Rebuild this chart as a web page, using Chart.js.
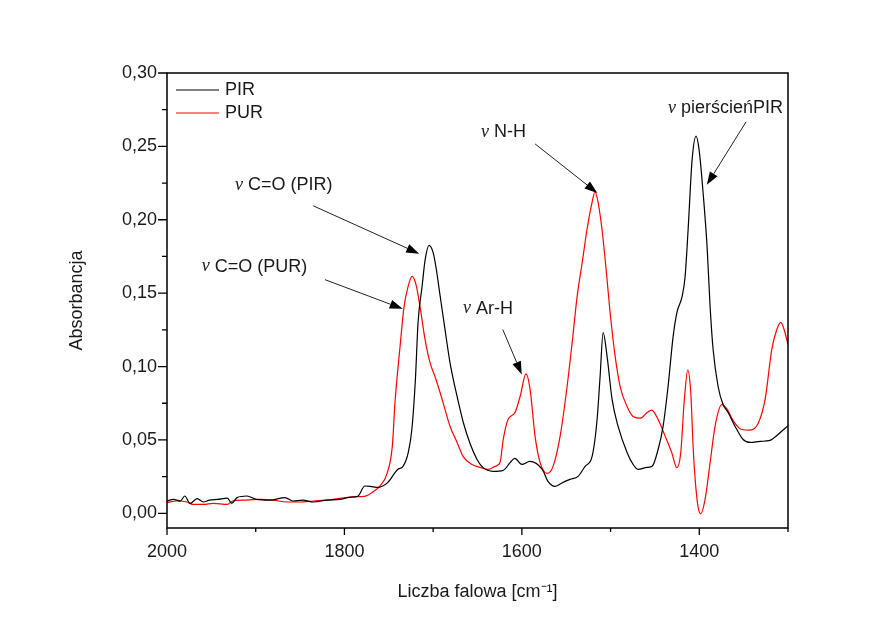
<!DOCTYPE html>
<html><head><meta charset="utf-8">
<script src="https://cdn.jsdelivr.net/npm/chart.js@4.4.1/dist/chart.umd.min.js"></script>
<style>html,body{margin:0;padding:0;background:#fff}#wrap{width:896px;height:627px;position:relative}</style>
</head><body><div id="wrap"><canvas id="c" width="896" height="627"></canvas></div>
<script>
// ---- DATA ----
const pirWavenumber = [2000,1993,1985,1980,1974,1966,1959,1952,1943,1932,1927,1921,1910,1899,1884,1867,1858,1847,1835,1820,1805,1794,1785,1777,1771,1762,1751,1740,1734,1728,1724,1720,1717,1712.5,1709,1704.6,1700,1696.7,1692,1686.6,1681,1673,1666,1658,1650.5,1644,1632.5,1621,1613,1608,1600,1591,1577,1570.5,1562.6,1553.5,1545.7,1536.6,1528.7,1520.8,1515.2,1511.8,1508.4,1503.9,1498.3,1491.5,1481.4,1474.6,1469,1458.8,1453.2,1446.4,1440.8,1435.2,1429.5,1425,1419.4,1416,1412.6,1408.1,1403.6,1400.2,1395.7,1391.2,1387.8,1384.4,1378.8,1373.2,1367.5,1359.6,1350.6,1342.7,1331.4,1320.2,1311.2,1302.3,1300];
const pirAbsorbance = [0.0084,0.0095,0.0084,0.0118,0.0068,0.0100,0.0077,0.0090,0.0095,0.0104,0.0068,0.0107,0.0118,0.0095,0.0090,0.0107,0.0084,0.0090,0.0077,0.0090,0.0095,0.0109,0.0116,0.0186,0.0184,0.0177,0.0211,0.0299,0.0320,0.0415,0.0571,0.0912,0.1300,0.1544,0.1728,0.1825,0.1776,0.1673,0.1476,0.1252,0.1027,0.0796,0.0619,0.0469,0.0367,0.0313,0.0286,0.0293,0.0347,0.0374,0.0333,0.0354,0.0299,0.0218,0.0184,0.0211,0.0231,0.0252,0.0320,0.0388,0.0639,0.0932,0.1231,0.1068,0.0776,0.0592,0.0415,0.0333,0.0299,0.0313,0.0320,0.0435,0.0592,0.0864,0.1204,0.1374,0.1476,0.1612,0.1932,0.2408,0.2570,0.2476,0.2184,0.1816,0.1408,0.1116,0.0864,0.0741,0.0687,0.0592,0.0503,0.0483,0.0490,0.0497,0.0537,0.0585,0.0595];
const purWavenumber = [2000,1989,1977.5,1971,1959,1948,1932,1926,1914,1895,1880.5,1865,1850,1835,1820,1805,1790,1777,1768,1760,1752,1746,1743,1737.3,1732.8,1728.3,1723.8,1719.3,1714.8,1709.1,1703.5,1697.9,1692.2,1686.6,1680.9,1673,1666.3,1656.1,1647.1,1638.1,1630.2,1624.6,1621,1615.6,1607.7,1602,1595.3,1590.7,1585.1,1579.5,1571.6,1564.8,1556.9,1549,1543.3,1537.7,1532,1526.6,1521.9,1517.4,1514,1509.6,1505,1500.5,1494.8,1489.2,1481.4,1474.6,1466.5,1458.8,1453.7,1446.4,1438.5,1431,1425.4,1420.9,1417.1,1413,1409.6,1406.6,1402.1,1398.3,1393.5,1387.8,1382.2,1374.6,1368.3,1361.5,1352.1,1342.7,1333.3,1325.8,1318.3,1312.6,1308.1,1304.4,1300];
const purAbsorbance = [0.0073,0.0084,0.0077,0.0061,0.0061,0.0068,0.0061,0.0084,0.0090,0.0095,0.0090,0.0077,0.0077,0.0084,0.0090,0.0102,0.0113,0.0116,0.0145,0.0186,0.0270,0.0458,0.0755,0.1136,0.1408,0.1544,0.1615,0.1558,0.1408,0.1184,0.1027,0.0932,0.0823,0.0707,0.0592,0.0483,0.0388,0.0333,0.0313,0.0299,0.0320,0.0347,0.0503,0.0639,0.0687,0.0796,0.0950,0.0844,0.0524,0.0347,0.0272,0.0320,0.0524,0.0864,0.1163,0.1476,0.1707,0.1932,0.2088,0.2190,0.2116,0.1932,0.1660,0.1367,0.1068,0.0864,0.0728,0.0660,0.0648,0.0687,0.0703,0.0639,0.0526,0.0413,0.0311,0.0413,0.0753,0.0975,0.0821,0.0413,0.0073,-0.0003,0.0095,0.0345,0.0594,0.0741,0.0707,0.0628,0.0571,0.0567,0.0617,0.0776,0.1116,0.1252,0.1301,0.1252,0.1150];
const seriesLabels = ['PIR', 'PUR'];
const xMajorTicks = [2000, 1800, 1600, 1400];
const xMinorTicks = [1900, 1700, 1500, 1300];
const yMajorTicks = [0, 0.05, 0.10, 0.15, 0.20, 0.25, 0.30];
const yMinorTicks = [0.025, 0.075, 0.125, 0.175, 0.225, 0.275];
const xTitle = 'Liczba falowa [cm\u207B\u00B9]';
const yTitle = 'Absorbancja';
// annotation labels: [text, text wavenumber, text absorbance, arrow from (wn, abs), arrow to (wn, abs)]
const annotationTexts = ['C=O (PIR)', 'C=O (PUR)', 'Ar-H', 'N-H', 'pierścieńPIR'];
const annotationTextAt = [[1923.3, 0.2238], [1960.9, 0.168], [1666.3, 0.1395], [1646.0, 0.2599], [1435.2, 0.2762]];
const annotationArrowFrom = [[1835.1, 0.2095], [1821.9, 0.1592], [1621.5, 0.1252], [1585.1, 0.2517], [1347.3, 0.2667]];
const annotationArrowTo = [[1715.7, 0.1769], [1734.3, 0.1393], [1600.1, 0.0946], [1514.9, 0.2182], [1391.5, 0.2238]];

const SANS = '"Liberation Sans", Arial, sans-serif';
const SERIF = '"Liberation Serif", "Times New Roman", serif';
const TXT = '#1a1a1a';

function toPoints(xs, ys) { return xs.map((x, i) => ({ x: x, y: ys[i] })); }

const decor = {
  id: 'decor',
  afterDraw(chart) {
    const ctx = chart.ctx, a = chart.chartArea;
    const xs = chart.scales.x, ys = chart.scales.y;
    ctx.save();
    // frame
    ctx.strokeStyle = '#000'; ctx.lineWidth = 1.5;
    ctx.strokeRect(a.left, a.top, a.right - a.left, a.bottom - a.top);
    // ticks
    ctx.lineWidth = 1.3;
    ctx.beginPath();
    xMajorTicks.forEach(v => { const p = xs.getPixelForValue(v); ctx.moveTo(p, a.bottom); ctx.lineTo(p, a.bottom + 7); });
    xMinorTicks.forEach(v => { const p = xs.getPixelForValue(v); ctx.moveTo(p, a.bottom); ctx.lineTo(p, a.bottom + 4); });
    yMajorTicks.forEach(v => { const p = ys.getPixelForValue(v); ctx.moveTo(a.left - 9, p); ctx.lineTo(a.left, p); });
    yMinorTicks.forEach(v => { const p = ys.getPixelForValue(v); ctx.moveTo(a.left - 5, p); ctx.lineTo(a.left, p); });
    ctx.stroke();
    // legend
    ctx.textBaseline = 'middle'; ctx.textAlign = 'left';
    ctx.font = '18px ' + SANS;
    chart.data.datasets.forEach((ds, i) => {
      const y = a.top + 17 + i * 23;
      ctx.strokeStyle = ds.borderColor; ctx.lineWidth = 1.2;
      ctx.beginPath(); ctx.moveTo(a.left + 9, y); ctx.lineTo(a.left + 52, y); ctx.stroke();
      ctx.fillStyle = TXT; ctx.fillText(ds.label, a.left + 58, y);
    });
    // annotations
    annotationTexts.forEach((t, i) => {
      const tx = xs.getPixelForValue(annotationTextAt[i][0]);
      const ty = ys.getPixelForValue(annotationTextAt[i][1]);
      ctx.fillStyle = TXT;
      ctx.font = 'italic 18px ' + SERIF;
      ctx.fillText('\u03BD', tx, ty);
      const w = ctx.measureText('\u03BD').width;
      ctx.font = '18px ' + SANS;
      ctx.fillText(' ' + t, tx + w, ty);
      const x1 = xs.getPixelForValue(annotationArrowFrom[i][0]), y1 = ys.getPixelForValue(annotationArrowFrom[i][1]);
      const x2 = xs.getPixelForValue(annotationArrowTo[i][0]), y2 = ys.getPixelForValue(annotationArrowTo[i][1]);
      const ang = Math.atan2(y2 - y1, x2 - x1);
      const L = 13, H = 4.5;
      ctx.strokeStyle = '#222'; ctx.lineWidth = 1;
      ctx.beginPath(); ctx.moveTo(x1, y1);
      ctx.lineTo(x2 - L * Math.cos(ang), y2 - L * Math.sin(ang)); ctx.stroke();
      ctx.fillStyle = '#000';
      ctx.beginPath();
      ctx.moveTo(x2, y2);
      ctx.lineTo(x2 - L * Math.cos(ang) + H * Math.sin(ang), y2 - L * Math.sin(ang) - H * Math.cos(ang));
      ctx.lineTo(x2 - L * Math.cos(ang) - H * Math.sin(ang), y2 - L * Math.sin(ang) + H * Math.cos(ang));
      ctx.closePath(); ctx.fill();
    });
    ctx.restore();
  }
};

new Chart(document.getElementById('c'), {
  type: 'line',
  data: {
    datasets: [
      { label: seriesLabels[0], data: toPoints(pirWavenumber, pirAbsorbance), borderColor: '#000000', borderWidth: 1.2, pointRadius: 0, cubicInterpolationMode: 'monotone', fill: false },
      { label: seriesLabels[1], data: toPoints(purWavenumber, purAbsorbance), borderColor: '#ff0000', borderWidth: 1.2, pointRadius: 0, cubicInterpolationMode: 'monotone', fill: false }
    ]
  },
  options: {
    responsive: false, animation: false, devicePixelRatio: 1,
    layout: { padding: { left: 62, top: 73, right: 108, bottom: 20 } },
    plugins: { legend: { display: false }, tooltip: { enabled: false } },
    scales: {
      x: {
        type: 'linear', reverse: true, min: 1300, max: 2000,
        afterBuildTicks: s => { s.ticks = xMajorTicks.map(v => ({ value: v })); },
        afterFit: s => { s.height = 79; },
        ticks: { callback: v => String(v), font: { family: SANS, size: 18 }, color: TXT, padding: 5, maxRotation: 0, autoSkip: false },
        grid: { drawOnChartArea: false, drawTicks: true, tickLength: 8, color: 'rgba(0,0,0,0)', tickColor: 'rgba(0,0,0,0)' },
        border: { display: false },
        title: { display: true, text: xTitle, font: { family: SANS, size: 18 }, color: TXT, padding: { top: 4, bottom: 4 } }
      },
      y: {
        type: 'linear', min: -0.01, max: 0.30,
        afterBuildTicks: s => { s.ticks = yMajorTicks.map(v => ({ value: v })); },
        afterFit: s => { s.width = 105; },
        ticks: { callback: v => Number(v).toFixed(2).replace('.', ','), font: { family: SANS, size: 18 }, color: TXT, padding: 1 },
        grid: { drawOnChartArea: false, drawTicks: true, tickLength: 9, color: 'rgba(0,0,0,0)', tickColor: 'rgba(0,0,0,0)' },
        border: { display: false },
        title: { display: true, text: yTitle, font: { family: SANS, size: 18 }, color: TXT, padding: { top: 4, bottom: 4 } }
      }
    }
  },
  plugins: [decor]
});
</script>
</body></html>
